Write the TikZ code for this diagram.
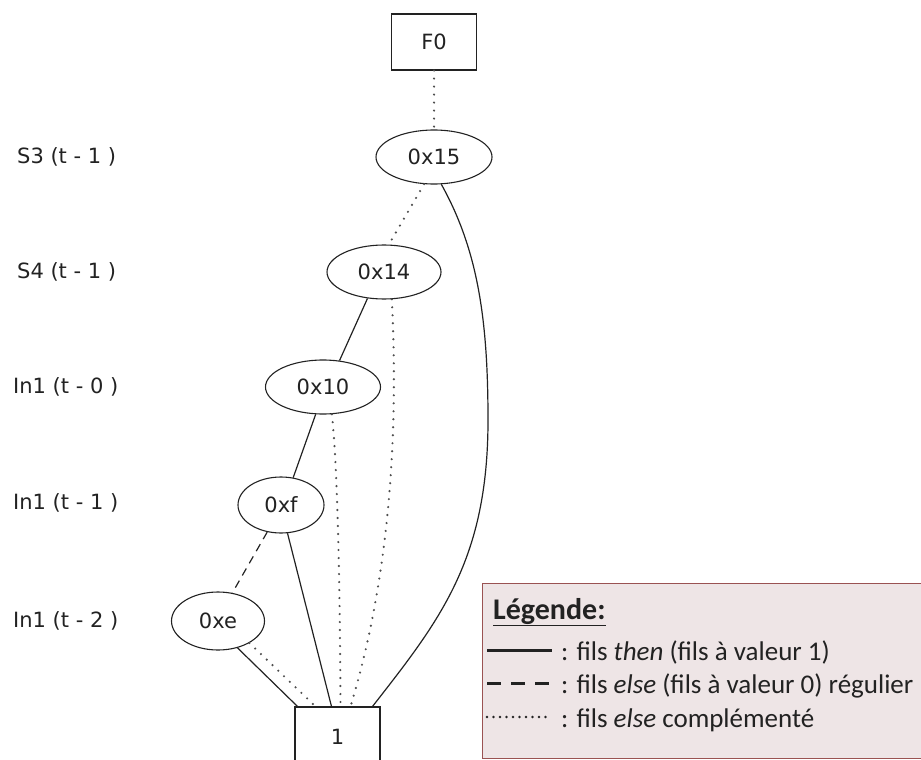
\documentclass[tikz,border=0pt]{standalone}
\usepackage{fontspec}
\setmainfont{DejaVu Sans}
\newfontfamily\legendfont{Carlito}
\usetikzlibrary{shapes.geometric}
\definecolor{ink}{HTML}{222222}
\definecolor{legendbg}{HTML}{EEE5E6}
\definecolor{legendline}{HTML}{9A5252}
\tikzset{
  every node/.style={font=\fontsize{21}{25}\selectfont,text=ink},
  term/.style={draw=ink,line width=1.1pt,minimum width=85pt,inner sep=0pt},
  var/.style={draw=ink,line width=1.1pt,ellipse,inner sep=0pt,minimum height=54pt},
  level/.style={anchor=west,inner sep=0pt},
  thenarr/.style={draw=ink,line width=1.2pt},
  elsearr/.style={draw=ink,line width=1.2pt,dash pattern=on 8pt off 6pt},
  complarr/.style={draw=ink!80,line width=2.4pt,line cap=round,dash pattern=on 0pt off 8pt},
  legend/.style={draw=legendline,line width=1.1pt,fill=legendbg},
  legtext/.style={anchor=base west,inner sep=0pt,font=\legendfont\fontsize{27}{32}\selectfont}
}
\begin{document}
\begin{tikzpicture}[x=1pt,y=-1pt]
  \clip (0,0) rectangle (921,760);
  % variable order
  \node[level] (l15) at (17,157) {S3 (t - 1 )};
  \node[level] (l14) at (17,272) {S4 (t - 1 )};
  \node[level] (l10) at (13,387) {In1 (t - 0 )};
  \node[level] (lf) at (13,503) {In1 (t - 1 )};
  \node[level] (le) at (13,621) {In1 (t - 2 )};

  % bdd nodes
  \node[term,minimum height=56pt] (f0) at (434,42) {F0};
  \node[var,minimum width=116pt] (n15) at (434,157) {0x15};
  \node[var,minimum width=114pt] (n14) at (384,272) {0x14};
  \node[var,minimum width=115pt] (n10) at (323,387) {0x10};
  \node[var,minimum width=86pt,minimum height=56pt] (nf) at (281,505) {0xf};
  \node[var,minimum width=93pt,minimum height=58pt] (ne) at (218,621) {0xe};
  \node[term,minimum height=100pt,text depth=0pt] (one) at (337.5,757) {};
  \node (onelbl) at (337.5,737) {1};

  % edges
  \draw[complarr] (f0) -- (n15);
  \draw[complarr] (n15.250) -- (n14.80);
  \draw[thenarr] (n15.285) .. controls (478,250) and (488,320) .. (488,420)
    .. controls (488,560) and (440,620) .. ([xshift=35pt]one.north);
  \draw[thenarr] (n14.238) -- (n10.58);
  \draw[complarr] (n14.286) .. controls (398,420) and (392,570) .. ([xshift=13pt]one.north);
  \draw[thenarr] (n10.255) -- (nf.66);
  \draw[complarr] (n10.288) .. controls (338,470) and (340,600) .. ([xshift=3pt]one.north);
  \draw[elsearr] (nf.243) -- (ne.63);
  \draw[thenarr] (nf.283) -- ([xshift=-6pt]one.north);
  \draw[thenarr] (ne.306) -- ([xshift=-40pt]one.north);
  \draw[complarr] (ne.325) -- ([xshift=-22pt]one.north);

  % legende
  \node[legend,minimum width=450pt,minimum height=175pt,anchor=north west] (leg) at (482,583) {};
  \node[legtext,font=\legendfont\bfseries\fontsize{30}{34}\selectfont] (legtitle) at (493,619) {\underline{Légende:}};
  \coordinate (s1) at (487,650);
  \coordinate (s2) at (487,683);
  \coordinate (s3) at (487,717);
  \node[legtext] (t1) at (561,660) {: fils \textit{then} (fils à valeur 1)};
  \node[legtext] (t2) at (561,693) {: fils \textit{else} (fils à valeur 0) régulier};
  \node[legtext] (t3) at (561,727) {: fils \textit{else} complémenté};
  \draw[thenarr,line width=3pt] (s1) -- ([xshift=-9pt]s1 -| t1.west);
  \draw[elsearr,line width=3pt,dash pattern=on 14pt off 10pt] (s2) -- ([xshift=-9pt]s2 -| t2.west);
  \draw[complarr,draw=ink,line width=2.6pt,dash pattern=on 0pt off 6.5pt] (s3) -- ([xshift=-9pt]s3 -| t3.west);
\end{tikzpicture}
\end{document}
